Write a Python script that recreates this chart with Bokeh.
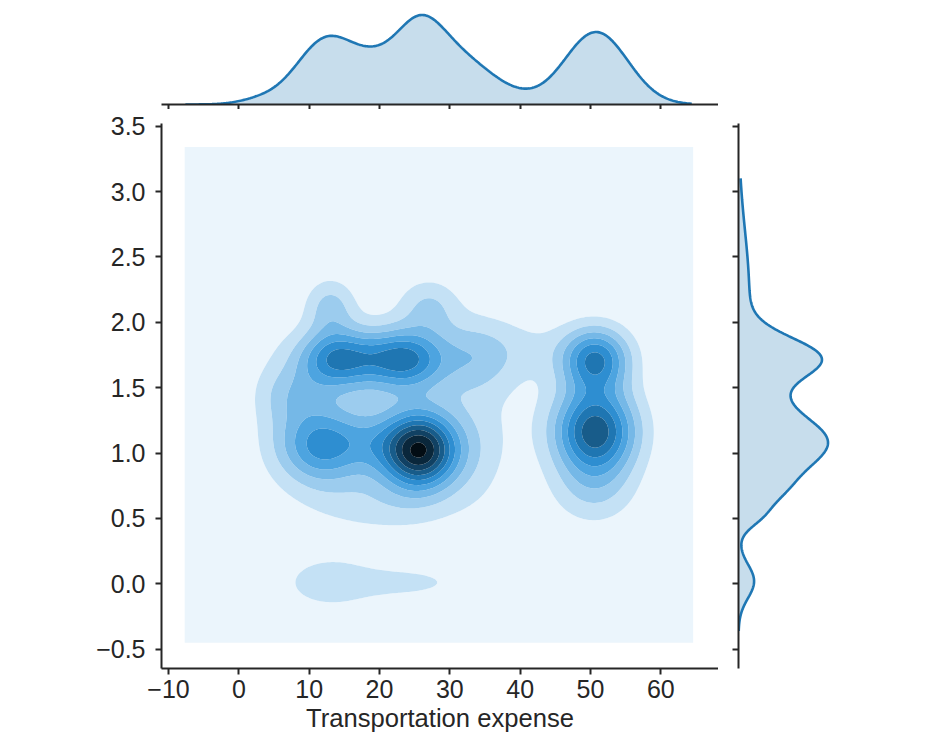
import colorsys
import numpy as np
from bokeh.plotting import figure
from bokeh.layouts import column, row
from bokeh.models import Range1d, FixedTicker, CustomJSTickFormatter
from bokeh.embed import file_html
from bokeh.resources import INLINE

# ---------------- data ----------------
# joint density: clusters of the bivariate KDE (peak height, centre, spread)
comp_peak = [0.80, 0.44, 0.10, 0.485, 0.48, 0.18, 0.06, 0.50, 0.64, 0.15, 0.135, 0.11, 0.19, 0.16, 0.08, 0.10, 0.05, 0.14, 0.07]
comp_x    = [25.6, 11.8, 18.5, 14.0, 23.5, 34.0, 42.0, 50.7, 50.7, 50.5, 13.0, 24.0, 13.0, 27.0, 26.0, 20.0, 5.0, 8.0, 34.0]
comp_y    = [1.02, 1.06, 1.08, 1.72, 1.72, 1.75, 1.80, 1.72, 1.17, 0.72, 0.01, 0.01, 2.12, 2.12, 1.35, 0.60, 1.40, 1.45, 1.00]
comp_sx   = [3.8, 4.3, 3.0, 4.0, 4.0, 4.0, 4.0, 3.4, 4.1, 4.2, 5.0, 5.5, 2.5, 3.0, 10.0, 8.0, 3.0, 3.5, 3.5]
comp_sy   = [0.20, 0.21, 0.17, 0.16, 0.16, 0.20, 0.17, 0.17, 0.23, 0.20, 0.15, 0.08, 0.15, 0.15, 0.45, 0.17, 0.40, 0.15, 0.30]
grid_x_range = [-7.7, 64.6]
grid_y_range = [-0.45, 3.34]

# marginal density of Transportation expense (top)
xm_center = [3.0, 12.6, 19.0, 25.8, 32.5, 37.0, 50.8]
xm_spread = [3.0, 4.3, 3.0, 3.9, 3.5, 4.0, 4.5]
xm_height = [0.04, 0.62, 0.17, 0.78, 0.24, 0.12, 0.68]
xm_range = [-7.6, 64.4]

# marginal density of the y variable (right)
ym_center = [0.02, 0.50, 0.68, 1.08, 1.42, 1.72, 2.2]
ym_spread = [0.13, 0.08, 0.14, 0.23, 0.12, 0.16, 0.5]
ym_height = [0.138, 0.08, 0.22, 0.78, 0.06, 0.66, 0.095]
ym_range = [-0.36, 3.1]

x_ticks = [-10, 0, 10, 20, 30, 40, 50, 60]
y_ticks = [-0.5, 0.0, 0.5, 1.0, 1.5, 2.0, 2.5, 3.0, 3.5]
x_label = "Transportation expense"

# ---------------- computations ----------------
gx = np.linspace(grid_x_range[0], grid_x_range[1], 260)
gy = np.linspace(grid_y_range[0], grid_y_range[1], 260)
XX, YY = np.meshgrid(gx, gy)
Z = np.zeros_like(XX)
for h, cx, cy, sx, sy in zip(comp_peak, comp_x, comp_y, comp_sx, comp_sy):
    Z += h * np.exp(-((XX - cx) ** 2) / (2 * sx ** 2) - ((YY - cy) ** 2) / (2 * sy ** 2))

n_layers = 11
levels = list(np.linspace(0.0, Z.max() * 1.06, n_layers + 1))

# seaborn jointplot colormap: hue of C0 blended from lightness 1 to 0
h0, l0, s0 = colorsys.rgb_to_hls(31 / 255, 119 / 255, 180 / 255)
stops = np.array([colorsys.hls_to_rgb(h0, l, s0) for l in np.linspace(1, 0, 12)])


def cmap(t):
    pos = t * (len(stops) - 1)
    i = min(int(np.floor(pos)), len(stops) - 2)
    f = pos - i
    c = stops[i] * (1 - f) + stops[i + 1] * f
    return "#%02x%02x%02x" % tuple(int(round(v * 255)) for v in c)


fill_colors = [cmap((k + 0.5) / n_layers) for k in range(n_layers)]

mx = np.linspace(xm_range[0], xm_range[1], 400)
dx = np.zeros_like(mx)
for c, s, a in zip(xm_center, xm_spread, xm_height):
    dx += a * np.exp(-((mx - c) ** 2) / (2 * s ** 2))

my = np.linspace(ym_range[0], ym_range[1], 400)
dy = np.zeros_like(my)
for c, s, a in zip(ym_center, ym_spread, ym_height):
    dy += a * np.exp(-((my - c) ** 2) / (2 * s ** 2))

# ---------------- styling helpers ----------------
AX = "#262626"
FONT = "Liberation Sans"
LINE = "#1f77b4"
FILL = "#1f77b4"

x_range = Range1d(-11.0, 68.2)
y_range = Range1d(-0.647, 3.52)


def style_axis(ax, ticks, fmt_code, font_size="25px", standoff=5, tick_out=6):
    ax.ticker = FixedTicker(ticks=ticks)
    ax.formatter = CustomJSTickFormatter(code=fmt_code)
    ax.axis_line_color = AX
    ax.axis_line_width = 2
    ax.major_tick_line_color = AX
    ax.major_tick_line_width = 2
    ax.major_tick_out = tick_out
    ax.major_tick_in = 0
    ax.minor_tick_line_color = None
    ax.major_label_text_font = FONT
    ax.major_label_text_font_size = font_size
    ax.major_label_text_color = AX
    ax.major_label_standoff = standoff


fmt_x = "return (tick < 0 ? '\u2212' : '') + Math.abs(tick).toFixed(0);"
fmt_y = "return (tick < 0 ? '\u2212' : '') + Math.abs(tick).toFixed(1);"
fmt_none = "return '';"

# ---------------- top marginal ----------------
top_frame_h = 96
pt = figure(x_range=x_range, y_range=Range1d(0, dx.max() * 1.05 * top_frame_h / 94.0),
            frame_width=557, frame_height=top_frame_h,
            min_border_left=161, min_border_right=0, min_border_top=8, min_border_bottom=5,
            y_axis_location=None, output_backend="svg", toolbar_location=None, tools="")
pt.varea(x=mx, y1=0, y2=dx, fill_color=FILL, fill_alpha=0.25)
pt.line(mx, dx, line_color=LINE, line_width=2.6)
pt.grid.visible = False
pt.outline_line_color = None
style_axis(pt.xaxis[0], x_ticks, fmt_none, font_size="0px", standoff=0, tick_out=5)

# ---------------- main joint plot ----------------
p = figure(x_range=x_range, y_range=y_range, frame_width=557, frame_height=545,
           min_border_left=161, min_border_right=0, min_border_top=14, min_border_bottom=86,
           output_backend="svg", toolbar_location=None, tools="")
p.contour(x=gx, y=gy, z=Z, levels=levels, fill_color=fill_colors)
p.grid.visible = False
p.outline_line_color = None
style_axis(p.xaxis[0], x_ticks, fmt_x, standoff=5)
style_axis(p.yaxis[0], y_ticks, fmt_y, standoff=10)
p.xaxis.axis_label = x_label
p.xaxis.axis_label_text_font = FONT
p.xaxis.axis_label_text_font_size = "25.6px"
p.xaxis.axis_label_text_font_style = "normal"
p.xaxis.axis_label_text_color = AX
p.xaxis.axis_label_standoff = 3

# ---------------- right marginal ----------------
pr = figure(x_range=Range1d(0, dy.max() * 1.05), y_range=y_range, frame_width=94, frame_height=545,
            min_border_left=20, min_border_right=10, min_border_top=14, min_border_bottom=86,
            x_axis_location=None, output_backend="svg", toolbar_location=None, tools="")
pr.harea(y=my, x1=0, x2=dy, fill_color=FILL, fill_alpha=0.25)
pr.line(dy, my, line_color=LINE, line_width=2.6)
pr.grid.visible = False
pr.outline_line_color = None
style_axis(pr.yaxis[0], y_ticks, fmt_none, font_size="0px", standoff=0)

layout = column(pt, row(p, pr))

with open("out.html", "w", encoding="utf-8") as f:
    f.write(file_html(layout, INLINE))
